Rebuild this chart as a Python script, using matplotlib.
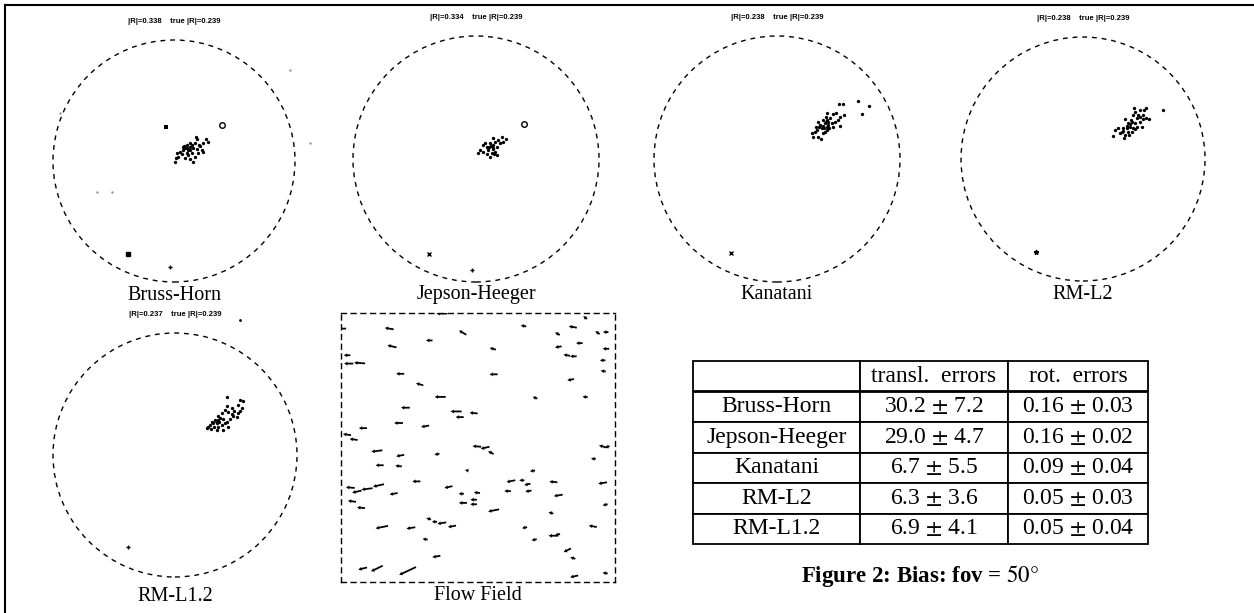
import numpy as np
import matplotlib
matplotlib.use('Agg')
import matplotlib.pyplot as plt
from matplotlib.lines import Line2D

plt.rcParams['font.family'] = ['Liberation Serif', 'DejaVu Serif']
plt.rcParams['mathtext.fontset'] = 'stix'

W, H = 1254, 613

# Dane: estymaty kierunku translacji (w jednostkach promienia koła)
bh_x = [0.179, 0.193, 0.264, 0.284, 0.209, 0.174, 0.146, 0.132, 0.105, 0.091, 0.118, 0.077,
        0.050, 0.063, 0.022, 0.105, 0.146, 0.132, 0.160, 0.187, 0.229, 0.242, 0.201, 0.174,
        0.160, 0.132, 0.091, 0.036, 0.008, 0.017, 0.118, 0.215, 0.242, 0.072, 0.105, 0.132, 0.083]
bh_y = [0.196, 0.179, 0.179, 0.160, 0.132, 0.146, 0.132, 0.118, 0.132, 0.105, 0.091, 0.091,
        0.077, 0.058, 0.063, 0.063, 0.063, 0.091, 0.105, 0.096, 0.091, 0.077, 0.063, 0.036,
        -0.006, 0.014, 0.022, 0.036, -0.006, 0.022, 0.050, 0.124, 0.146, 0.113, 0.105, 0.146, 0.124]

jh_x = [0.244, 0.209, 0.181, 0.195, 0.154, 0.136, 0.114, 0.087, 0.059, 0.100, 0.141, 0.128,
        0.154, 0.087, 0.114, 0.059, 0.033, 0.019, 0.168, 0.222, 0.073, 0.136, 0.108, 0.146,
        0.168, 0.122, 0.100, 0.141]
jh_y = [0.160, 0.181, 0.154, 0.128, 0.141, 0.168, 0.128, 0.100, 0.114, 0.073, 0.087, 0.046,
        0.059, 0.041, 0.019, 0.059, 0.073, 0.051, 0.100, 0.141, 0.133, 0.114, 0.095, 0.041,
        0.033, 0.106, 0.087, 0.081]

ka_x = [0.507, 0.539, 0.661, 0.751, 0.688, 0.545, 0.512, 0.453, 0.480, 0.404, 0.398, 0.431,
        0.417, 0.390, 0.444, 0.377, 0.404, 0.350, 0.336, 0.363, 0.323, 0.309, 0.282, 0.295,
        0.336, 0.355, 0.390, 0.425, 0.458, 0.512, 0.472, 0.499, 0.377, 0.344, 0.409, 0.372,
        0.317, 0.400, 0.417, 0.382, 0.409]
ka_y = [0.444, 0.444, 0.474, 0.431, 0.366, 0.358, 0.344, 0.366, 0.371, 0.371, 0.344, 0.331,
        0.303, 0.290, 0.290, 0.268, 0.263, 0.276, 0.303, 0.249, 0.236, 0.222, 0.209, 0.181,
        0.181, 0.160, 0.222, 0.249, 0.263, 0.268, 0.303, 0.317, 0.317, 0.258, 0.236, 0.209,
        0.258, 0.303, 0.276, 0.249, 0.317]

l2_x = [0.516, 0.500, 0.467, 0.421, 0.426, 0.658, 0.544, 0.495, 0.467, 0.445, 0.413, 0.391,
        0.344, 0.372, 0.399, 0.426, 0.440, 0.413, 0.385, 0.358, 0.331, 0.317, 0.290, 0.262,
        0.249, 0.303, 0.344, 0.372, 0.399, 0.336, 0.380, 0.426, 0.481, 0.467, 0.516, 0.454,
        0.495, 0.358, 0.385, 0.331]
l2_y = [0.421, 0.402, 0.402, 0.415, 0.383, 0.402, 0.325, 0.328, 0.347, 0.333, 0.361, 0.320,
        0.328, 0.292, 0.301, 0.292, 0.265, 0.251, 0.265, 0.251, 0.251, 0.224, 0.251, 0.238,
        0.191, 0.210, 0.197, 0.219, 0.219, 0.175, 0.197, 0.246, 0.265, 0.306, 0.333, 0.361,
        0.361, 0.273, 0.284, 0.230]

l12_x = [0.429, 0.533, 0.560, 0.514, 0.470, 0.424, 0.410, 0.437, 0.486, 0.519, 0.506, 0.478,
         0.533, 0.383, 0.355, 0.369, 0.396, 0.328, 0.342, 0.314, 0.301, 0.287, 0.273, 0.355,
         0.383, 0.410, 0.424, 0.322, 0.342, 0.295, 0.260, 0.437, 0.396, 0.451, 0.465, 0.547,
         0.350, 0.361, 0.333]
l12_y = [0.473, 0.451, 0.443, 0.410, 0.383, 0.402, 0.369, 0.355, 0.363, 0.342, 0.314, 0.320,
         0.363, 0.342, 0.320, 0.301, 0.293, 0.287, 0.260, 0.260, 0.273, 0.246, 0.232, 0.232,
         0.246, 0.260, 0.273, 0.227, 0.205, 0.211, 0.219, 0.227, 0.205, 0.293, 0.336, 0.383,
         0.284, 0.268, 0.276]

# pojedyncze punkty odstające
bh_out_x = [-0.066, -0.38, -0.64, -0.51, 0.96, -0.94, 1.12]
bh_out_y = [0.284, -0.77, -0.26, -0.26, 0.75, 0.40, 0.15]

methods = ['Bruss-Horn', 'Jepson-Heeger', 'Kanatani', 'RM-L2', 'RM-L1.2']
R_est = ['0.338', '0.334', '0.238', '0.238', '0.237']
R_true = '0.239'
true_dir = [(0.40, 0.30), (0.39, 0.285), None, None, None]
extra_mark = [(-0.03, -0.88, '+'), (-0.03, -0.90, '+'), None, None, None]
cross_mark = [(-0.38, -0.77, 's'), (-0.38, -0.77, 'x'), (-0.376, -0.767, 'x'),
              (-0.388, -0.765, '*'), (-0.388, -0.751, '+')]

transl = ['30.2 $\\pm$ 7.2', '29.0 $\\pm$ 4.7', '6.7 $\\pm$ 5.5', '6.3 $\\pm$ 3.6', '6.9 $\\pm$ 4.1']
rot = ['0.16 $\\pm$ 0.03', '0.16 $\\pm$ 0.02', '0.09 $\\pm$ 0.04', '0.05 $\\pm$ 0.03', '0.05 $\\pm$ 0.04']

# pole przepływu (pozycja, wektor) w jednostkach ramki 0..1
fx = [-0.02, 0.004, 0.176, 0.444, 0.666, 0.846, 0.790, 0.936, 0.966, 0.322, 0.186, 0.554,
      0.793, 0.870, 0.824, 0.848, 0.967, 0.022, 0.028, 0.068, 0.955, 0.216, 0.557, 0.957,
      0.838, 0.287, 0.362, 0.708, 0.891, 0.235, 0.420, 0.433, 0.484, 0.210, 0.080, 0.307,
      0.022, 0.046, 0.131, 0.496, 0.526, 0.547, 0.955, 0.972, 0.216, 0.350, 0.921, 0.141,
      0.210, 0.459, 0.699, 0.620, 0.660, 0.680, 0.275, 0.775, 0.955, 0.034, 0.058, 0.095,
      0.137, 0.192, 0.392, 0.439, 0.496, 0.608, 0.684, 0.793, 0.040, 0.073, 0.445, 0.484,
      0.484, 0.557, 0.766, 0.964, 0.320, 0.341, 0.368, 0.405, 0.149, 0.255, 0.670, 0.775,
      0.790, 0.919, 0.307, 0.705, 0.826, 0.846, 0.348, 0.079, 0.131, 0.243, 0.851, 0.964,
      0.368, 0.891]
fy = [0.988, 0.942, 0.942, 0.927, 0.952, 0.948, 0.923, 0.927, 0.929, 0.898, 0.876, 0.867,
      0.874, 0.888, 0.843, 0.839, 0.867, 0.843, 0.812, 0.814, 0.824, 0.774, 0.772, 0.784,
      0.752, 0.735, 0.688, 0.685, 0.688, 0.648, 0.634, 0.613, 0.628, 0.591, 0.572, 0.579,
      0.548, 0.530, 0.487, 0.504, 0.499, 0.481, 0.504, 0.502, 0.470, 0.475, 0.458, 0.434,
      0.431, 0.415, 0.413, 0.375, 0.378, 0.363, 0.374, 0.372, 0.368, 0.351, 0.336, 0.346,
      0.359, 0.328, 0.353, 0.328, 0.332, 0.338, 0.338, 0.322, 0.300, 0.276, 0.294, 0.306,
      0.289, 0.266, 0.257, 0.287, 0.235, 0.224, 0.219, 0.207, 0.204, 0.201, 0.202, 0.172,
      0.176, 0.207, 0.159, 0.157, 0.118, 0.089, 0.095, 0.050, 0.050, 0.041, 0.021, 0.033,
      0.998, 0.983]
fu = [-0.020, -0.022, -0.024, -0.020, -0.015, -0.022, -0.013, -0.012, -0.015, -0.018, -0.025, -0.017,
      -0.018, -0.018, -0.018, -0.018, -0.018, -0.018, -0.025, -0.030, -0.015, -0.022, -0.022, -0.014,
      -0.018, -0.020, -0.030, -0.013, -0.014, -0.024, -0.030, -0.022, -0.022, -0.024, -0.022, -0.022,
      -0.022, -0.022, -0.030, -0.024, -0.024, -0.015, -0.020, -0.012, -0.022, -0.014, -0.013, -0.022,
      -0.018, -0.010, -0.014, -0.024, -0.014, -0.017, -0.022, -0.022, -0.024, -0.024, -0.026, -0.030,
      -0.030, -0.022, -0.022, -0.014, -0.017, -0.018, -0.017, -0.024, -0.022, -0.022, -0.022, -0.018,
      -0.018, -0.030, -0.013, -0.014, -0.013, -0.014, -0.024, -0.022, -0.034, -0.024, -0.014, -0.026,
      -0.014, -0.022, -0.014, -0.014, -0.020, -0.014, -0.022, -0.024, -0.032, -0.046, -0.022, -0.014,
      -0.030, -0.010]
fv = [0.0, 0.0, 0.004, 0.012, 0.003, 0.004, 0.007, 0.008, 0.0, 0.0, 0.006, 0.005,
      -0.003, 0.0, 0.003, 0.0, 0.0, 0.0, 0.0, 0.002, 0.0, 0.0, 0.0, 0.002,
      -0.004, 0.006, 0.0, 0.005, 0.002, 0.0, 0.0, 0.0, 0.002, 0.0, 0.0, -0.004,
      0.003, 0.003, -0.004, 0.002, -0.006, 0.008, 0.006, -0.006, -0.004, -0.003, 0.0, 0.0,
      0.002, 0.002, -0.002, -0.005, 0.0, -0.004, 0.0, 0.002, -0.004, 0.002, -0.006, -0.004,
      -0.007, -0.004, -0.005, 0.0, 0.002, 0.0, -0.003, -0.004, 0.003, 0.002, 0.0, 0.0,
      0.0, -0.006, 0.004, -0.003, 0.004, 0.0, -0.004, -0.004, -0.007, -0.004, -0.003, 0.0,
      -0.004, 0.004, 0.002, -0.003, -0.010, 0.004, -0.004, -0.006, -0.016, -0.022, -0.005, 0.002,
      0.0, 0.008]

clusters = [(bh_x, bh_y), (jh_x, jh_y), (ka_x, ka_y), (l2_x, l2_y), (l12_x, l12_y)]
# środki kół i promienie w pikselach
centers = [(174, 161, 121), (476, 159, 123), (777, 159, 123), (1083, 159, 122), (175, 455, 122)]
title_off = [-1.11, -1.10, -1.10, -1.11, -1.16]

fig = plt.figure(figsize=(W / 100, H / 100), dpi=100)

S = 1.3
for i, (cx, cy, r) in enumerate(centers):
    ax = fig.add_axes([(cx - S * r) / W, 1 - (cy + S * r) / H, 2 * S * r / W, 2 * S * r / H])
    ax.set_xlim(-S, S)
    ax.set_ylim(-S, S)
    ax.axis('off')
    ax.add_patch(plt.Circle((0, 0), 1.0, fill=False, color='black', lw=1.0,
                            linestyle=(0, (3.5, 3.5))))
    px, py = clusters[i]
    ax.plot(px, py, 'o', color='black', ms=2.4, mew=0)
    if i == 0:
        ax.plot(bh_out_x[:2], bh_out_y[:2], 's', color='black', ms=2.5, mew=0)
        ax.plot(bh_out_x[2:], bh_out_y[2:], '.', color='0.6', ms=1.5)
    if true_dir[i] is not None:
        ax.plot(*true_dir[i], 'o', mfc='white', mec='black', ms=4, mew=1)
    if extra_mark[i] is not None:
        ax.plot(extra_mark[i][0], extra_mark[i][1], extra_mark[i][2], color='black', ms=3, mew=1)
    mx, my, mk = cross_mark[i]
    ax.plot(mx, my, mk, color='black', ms=3.5, mew=1)
    if i == 4:
        ax.plot(0.53, 1.11, '.', color='black', ms=2)
    ax.text(0, 1.15, '|R|=' + R_est[i] + '    true |R|=' + R_true, ha='center', va='center',
            fontsize=5.5, family='Liberation Sans', fontweight='bold')
    ax.text(0, title_off[i], methods[i], ha='center', va='center', fontsize=14.5)

# pole przepływu
axf = fig.add_axes([341 / W, 1 - 582 / H, 274 / W, 269 / H])
axf.set_xlim(0, 1)
axf.set_ylim(0, 1)
axf.set_xticks([])
axf.set_yticks([])
for sp in axf.spines.values():
    sp.set_linestyle((0, (3.5, 3.5)))
    sp.set_linewidth(1.0)
axf.quiver(fx, fy, fu, fv, angles='xy', scale_units='xy', scale=0.75, pivot='mid',
           width=0.0065, headwidth=2.2, headlength=2.0, headaxislength=1.8, color='black')
fig.text(478 / W, 1 - 596 / H, 'Flow Field', ha='center', va='center', fontsize=14.5)

# tabela
axt = fig.add_axes([693 / W, 1 - 544 / H, 455 / W, 183 / H])
axt.axis('off')
cell_text = [['', 'transl.  errors', 'rot.  errors']]
for m, t, r in zip(methods, transl, rot):
    cell_text.append([m, t, r])
tab = axt.table(cellText=cell_text, cellLoc='center', bbox=[0, 0, 1, 1],
                colWidths=[167 / 455, 148 / 455, 140 / 455])
tab.auto_set_font_size(False)
tab.set_fontsize(17)
for cell in tab.get_celld().values():
    cell.set_linewidth(1.3)
    cell.get_text().set_fontfamily('Liberation Serif')

fig.text(920 / W, 1 - 576 / H, 'Figure 2: Bias: fov = $50°$', ha='center', va='center',
         fontsize=16.5, fontweight='bold')

# ramka
fig.add_artist(Line2D([5 / W, 5 / W], [0, 1 - 5 / H], color='black', lw=1.5))
fig.add_artist(Line2D([5 / W, 1], [1 - 5 / H, 1 - 5 / H], color='black', lw=1.5))

fig.savefig('out.png', dpi=100)
